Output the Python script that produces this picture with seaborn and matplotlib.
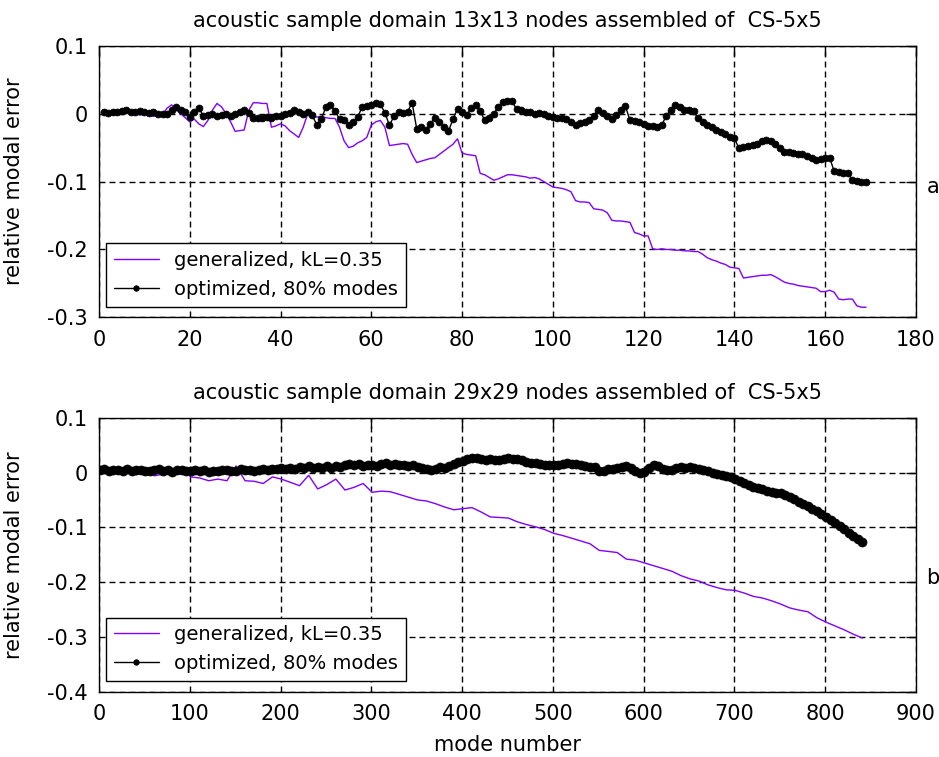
import numpy as np
import pandas as pd
import matplotlib
matplotlib.use("Agg")
import matplotlib.pyplot as plt
import matplotlib.transforms as mtransforms
import seaborn as sns

# values
top_modes = np.arange(1, 170)
top_optimized = [
    0.002, 0.001, 0.003, 0.002, 0.004, 0.006, 0.003, 0.002, 0.004, 0.002,
    0.001, 0.002, 0.000, -0.001, 0.000, 0.006, 0.010, 0.005, 0.002, -0.005,
    0.002, 0.008, -0.003, -0.002, 0.000, -0.004, -0.002, 0.000, -0.003, -0.001,
    0.002, 0.006, 0.001, -0.006, -0.007, -0.006, -0.005, -0.006, -0.004, -0.003,
    -0.001, 0.001, 0.005, 0.003, 0.000, 0.002, -0.002, -0.017, -0.008, 0.010,
    0.012, 0.004, -0.008, -0.010, -0.017, -0.012, -0.005, 0.010, 0.011, 0.012,
    0.015, 0.014, 0.001, -0.017, -0.004, 0.002, 0.001, 0.003, 0.016, -0.022,
    -0.020, -0.024, -0.015, -0.006, -0.012, -0.020, -0.026, -0.008, 0.007, 0.003,
    -0.002, 0.008, 0.013, 0.004, -0.010, -0.006, 0.000, 0.010, 0.017, 0.019,
    0.018, 0.007, 0.006, 0.003, 0.002, 0.000, 0.001, 0.000, -0.003, -0.005,
    -0.006, -0.007, -0.008, -0.012, -0.017, -0.014, -0.012, -0.010, -0.004, 0.005,
    0.001, -0.004, -0.008, -0.002, 0.006, 0.011, -0.010, -0.011, -0.012, -0.015,
    -0.018, -0.018, -0.019, -0.017, -0.003, 0.006, 0.013, 0.010, 0.006, 0.005,
    0.004, -0.007, -0.012, -0.017, -0.020, -0.024, -0.027, -0.030, -0.034, -0.036,
    -0.051, -0.049, -0.047, -0.046, -0.044, -0.041, -0.039, -0.040, -0.045, -0.051,
    -0.056, -0.057, -0.058, -0.059, -0.060, -0.063, -0.066, -0.068, -0.067, -0.066,
    -0.065, -0.085, -0.086, -0.087, -0.088, -0.098, -0.099, -0.100, -0.100,
]
top_generalized = [
    0.000, 0.001, 0.002, 0.001, 0.003, 0.002, 0.001, 0.000, -0.002, 0.000,
    -0.003, -0.004, -0.003, -0.001, 0.008, 0.013, 0.006, 0.000, -0.006, -0.012,
    -0.008, -0.015, -0.019, -0.010, 0.005, 0.015, 0.010, 0.000, -0.012, -0.026,
    -0.025, -0.024, 0.005, 0.016, 0.016, 0.015, 0.015, -0.020, -0.018, -0.015,
    -0.018, -0.025, -0.030, -0.035, -0.020, 0.000, -0.003, -0.005, -0.004, -0.006,
    -0.007, -0.007, -0.020, -0.040, -0.050, -0.048, -0.043, -0.040, -0.035, -0.017,
    -0.012, -0.010, -0.020, -0.047, -0.046, -0.045, -0.044, -0.045, -0.060, -0.072,
    -0.070, -0.068, -0.066, -0.065, -0.060, -0.055, -0.050, -0.045, -0.037, -0.058,
    -0.060, -0.061, -0.062, -0.088, -0.090, -0.094, -0.098, -0.096, -0.093, -0.090,
    -0.090, -0.091, -0.092, -0.093, -0.095, -0.094, -0.096, -0.100, -0.104, -0.108,
    -0.109, -0.110, -0.112, -0.115, -0.128, -0.130, -0.130, -0.131, -0.140, -0.141,
    -0.142, -0.146, -0.157, -0.158, -0.158, -0.159, -0.160, -0.175, -0.177, -0.180,
    -0.180, -0.199, -0.200, -0.199, -0.200, -0.200, -0.201, -0.201, -0.202, -0.202,
    -0.203, -0.203, -0.207, -0.212, -0.215, -0.217, -0.220, -0.222, -0.226, -0.227,
    -0.228, -0.242, -0.241, -0.240, -0.239, -0.238, -0.238, -0.237, -0.240, -0.244,
    -0.248, -0.250, -0.251, -0.253, -0.254, -0.255, -0.256, -0.257, -0.262, -0.262,
    -0.260, -0.263, -0.273, -0.274, -0.273, -0.273, -0.283, -0.285, -0.285,
]

bot_modes_opt = np.arange(1, 842, 5)
bot_optimized = [
    0.004, 0.006, 0.003, 0.005, 0.004, 0.002, 0.006, 0.003, 0.004, 0.005,
    0.003, 0.002, 0.005, 0.006, 0.003, 0.004, 0.001, 0.005, 0.004, 0.003,
    0.003, 0.005, 0.002, 0.004, 0.001, 0.003, 0.002, 0.005, 0.004, 0.002,
    0.003, 0.006, 0.004, 0.005, 0.002, 0.004, 0.006, 0.005, 0.007, 0.006,
    0.008, 0.006, 0.009, 0.007, 0.010, 0.008, 0.011, 0.009, 0.010, 0.008,
    0.011, 0.009, 0.012, 0.010, 0.014, 0.016, 0.013, 0.015, 0.012, 0.013,
    0.014, 0.012, 0.015, 0.017, 0.014, 0.016, 0.013, 0.014, 0.012, 0.013,
    0.010, 0.008, 0.006, 0.005, 0.007, 0.010, 0.009, 0.012, 0.016, 0.019,
    0.021, 0.024, 0.026, 0.027, 0.025, 0.023, 0.024, 0.022, 0.023, 0.025,
    0.026, 0.025, 0.024, 0.022, 0.019, 0.018, 0.017, 0.015, 0.014, 0.013,
    0.013, 0.014, 0.016, 0.017, 0.015, 0.016, 0.014, 0.012, 0.010, 0.010,
    0.003, 0.002, 0.006, 0.007, 0.008, 0.010, 0.011, 0.009, 0.002, 0.000,
    0.001, 0.008, 0.013, 0.011, 0.007, 0.004, 0.005, 0.008, 0.010, 0.009,
    0.010, 0.008, 0.007, 0.005, 0.003, 0.000, -0.002, -0.004, -0.006, -0.009,
    -0.012, -0.015, -0.019, -0.023, -0.026, -0.028, -0.030, -0.033, -0.035, -0.037,
    -0.038, -0.041, -0.044, -0.048, -0.053, -0.057, -0.062, -0.066, -0.071, -0.076,
    -0.082, -0.087, -0.092, -0.097, -0.103, -0.110, -0.116, -0.122, -0.127,
]
bot_modes_gen = np.arange(1, 842, 10)
bot_generalized = [
    -0.002, 0.000, -0.003, -0.001, -0.004, 0.002, -0.006, -0.003, -0.002, 0.010,
    -0.008, -0.010, -0.015, -0.012, -0.015, 0.012, -0.015, -0.016, -0.020, -0.008,
    -0.012, -0.018, -0.024, -0.005, -0.030, -0.022, -0.012, -0.032, -0.027, -0.020,
    -0.036, -0.034, -0.035, -0.040, -0.045, -0.050, -0.052, -0.057, -0.063, -0.068,
    -0.066, -0.064, -0.072, -0.081, -0.082, -0.083, -0.090, -0.095, -0.099, -0.104,
    -0.111, -0.115, -0.120, -0.125, -0.130, -0.142, -0.144, -0.146, -0.158, -0.160,
    -0.165, -0.170, -0.175, -0.180, -0.188, -0.194, -0.198, -0.205, -0.210, -0.214,
    -0.215, -0.220, -0.226, -0.229, -0.234, -0.240, -0.247, -0.251, -0.254, -0.265,
    -0.273, -0.280, -0.287, -0.295, -0.302,
]

titles = ["acoustic sample domain 13x13 nodes assembled of  CS-5x5",
          "acoustic sample domain 29x29 nodes assembled of  CS-5x5"]
tags = ["a", "b"]
series_names = ["generalized, kL=0.35", "optimized, 80% modes"]
top_xticks = [0, 20, 40, 60, 80, 100, 120, 140, 160, 180]
top_yticks = [-0.3, -0.2, -0.1, 0.0, 0.1]
top_ylabels = ["-0.3", "-0.2", "-0.1", "0", "0.1"]
bot_xticks = [0, 100, 200, 300, 400, 500, 600, 700, 800, 900]
bot_yticks = [-0.4, -0.3, -0.2, -0.1, 0.0, 0.1]
bot_ylabels = ["-0.4", "-0.3", "-0.2", "-0.1", "0", "0.1"]

PURPLE = "#8000ff"
FS = 15

sns.set_style("white")
plt.rcParams["font.family"] = ["DejaVu Sans"]
plt.rcParams["font.size"] = FS
plt.rcParams["text.color"] = "black"
plt.rcParams["axes.labelcolor"] = "black"
plt.rcParams["xtick.color"] = "black"
plt.rcParams["ytick.color"] = "black"

fig = plt.figure(figsize=(9.39, 7.57), dpi=100)
ax_top = fig.add_axes([0.1054, 0.5807, 0.8700, 0.3589])
ax_bot = fig.add_axes([0.1054, 0.0862, 0.8700, 0.3620])

top_gen = pd.DataFrame({"mode": top_modes, "err": top_generalized})
top_opt = pd.DataFrame({"mode": top_modes, "err": top_optimized})
bot_gen = pd.DataFrame({"mode": bot_modes_gen, "err": bot_generalized})
bot_opt = pd.DataFrame({"mode": bot_modes_opt, "err": bot_optimized})

panels = [
    (ax_top, top_gen, top_opt, top_xticks, top_yticks, top_ylabels, -0.108, 5.0),
    (ax_bot, bot_gen, bot_opt, bot_xticks, bot_yticks, bot_ylabels, -0.193, 6.5),
]

for i, (ax, gen, opt, xt, yt, yl, tag_y, ms) in enumerate(panels):
    sns.lineplot(data=gen, x="mode", y="err", ax=ax, color=PURPLE,
                 linewidth=1.0, label=series_names[0])
    sns.lineplot(data=opt, x="mode", y="err", ax=ax, color="black",
                 linewidth=1.0, marker="o", markersize=ms,
                 markeredgecolor="black", markeredgewidth=0.5,
                 label=series_names[1])

    ax.set_xlim(xt[0], xt[-1])
    ax.set_ylim(yt[0], yt[-1])
    ax.set_xticks(xt)
    ax.set_xticklabels([str(v) for v in xt])
    ax.set_yticks(yt)
    ax.set_yticklabels(yl)
    ax.tick_params(direction="in", length=7, width=1, top=True, right=True,
                   labelsize=FS, colors="black", pad=8)
    ax.tick_params(axis="x", pad=9)
    ax.grid(True, color="black", linestyle=(0, (4.3, 2.9)), linewidth=1.0)
    for sp in ax.spines.values():
        sp.set_color("black")
        sp.set_linewidth(1.0)
        sp.set_visible(True)

    ax.set_title(titles[i], fontsize=FS, pad=13.5, color="black")
    ax.set_ylabel("relative modal error", fontsize=FS)
    ax.yaxis.set_label_coords(-0.092, 0.5)
    if i == 1:
        ax.set_xlabel("mode number", fontsize=FS, labelpad=8)
    else:
        ax.set_xlabel("")

    trans = mtransforms.blended_transform_factory(ax.transAxes, ax.transData)
    ax.text(1.013, tag_y, tags[i], transform=trans, ha="left", va="center",
            fontsize=FS)

    leg = ax.legend(loc="lower left", bbox_to_anchor=(0.009, 0.04),
                    borderaxespad=0, fancybox=False, framealpha=1,
                    edgecolor="black", fontsize=14, handlelength=2.3,
                    handletextpad=0.8, borderpad=0.4, labelspacing=0.5)
    leg.get_frame().set_linewidth(1.0)
    for t in leg.get_texts():
        t.set_color("black")
    # small dot in the legend, as in the original
    for h in leg.legend_handles:
        if hasattr(h, "set_markersize"):
            h.set_markersize(4)

fig.savefig("out.png", dpi=100)
